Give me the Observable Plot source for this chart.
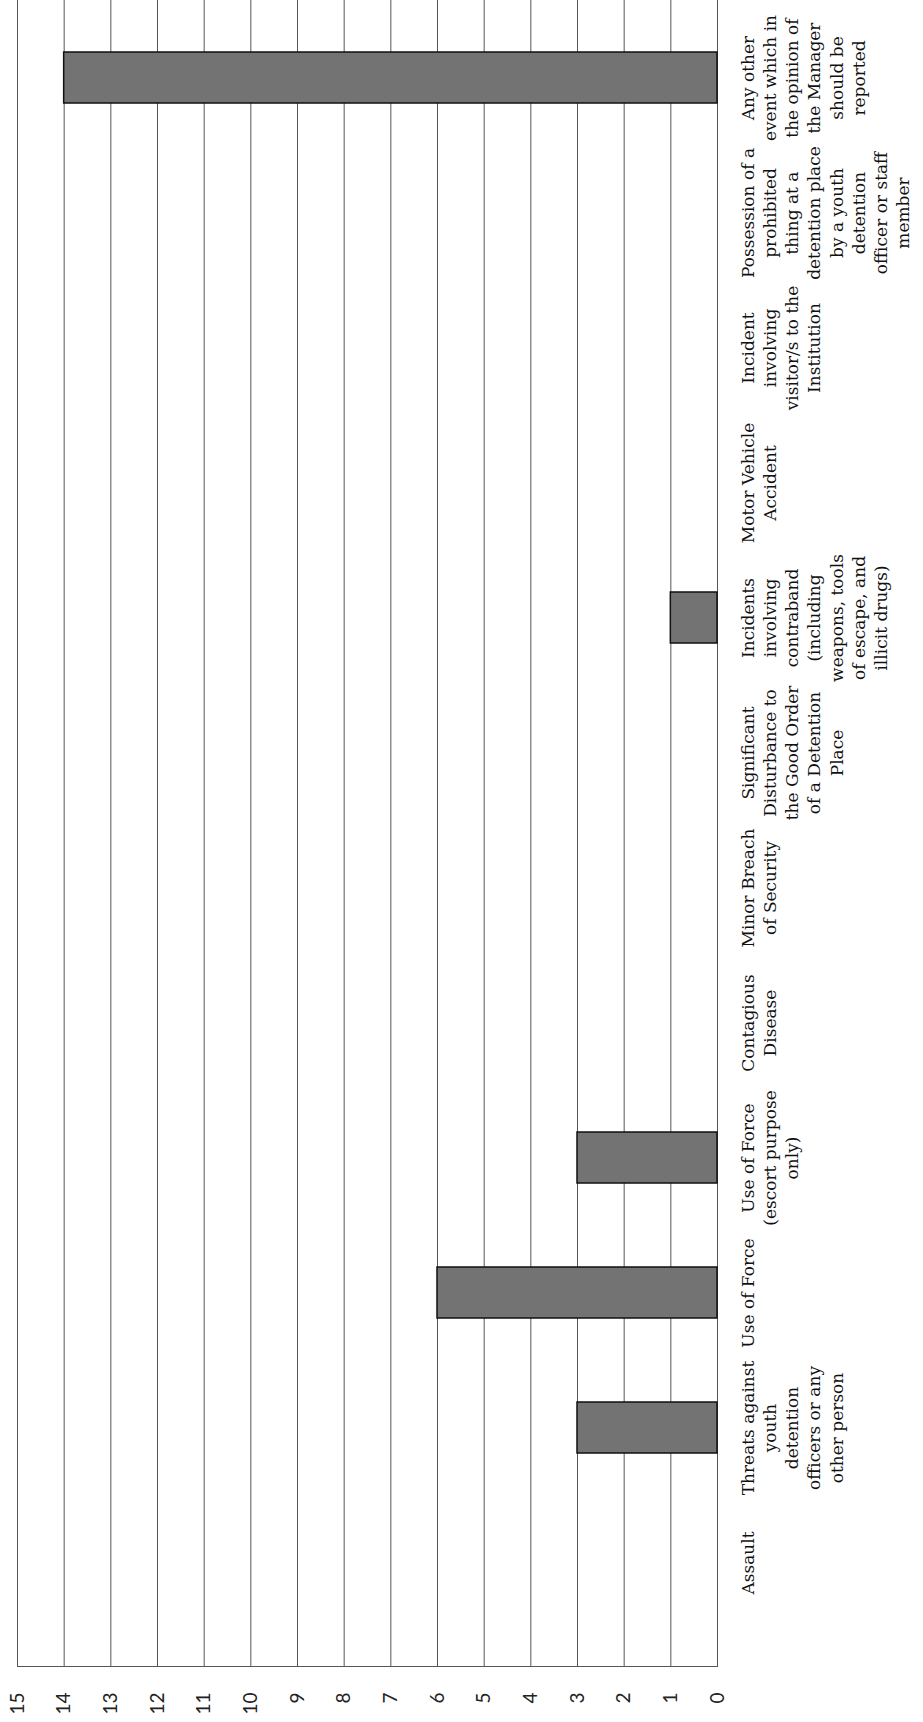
<!DOCTYPE html>
<html>
<head>
<meta charset="utf-8">
<script src="https://cdn.jsdelivr.net/npm/d3@7"></script>
<script src="https://cdn.jsdelivr.net/npm/@observablehq/plot@0.6"></script>
<style>
  html, body { margin: 0; padding: 0; background: #fff; }
  #chart svg { display: block; }
</style>
</head>
<body>
<div id="chart"></div>
<script>
const categories = [
  "Assault",
  "Threats against\nyouth\ndetention\nofficers or any\nother person",
  "Use of Force",
  "Use of Force\n(escort purpose\nonly)",
  "Contagious\nDisease",
  "Minor Breach\nof Security",
  "Significant\nDisturbance to\nthe Good Order\nof a Detention\nPlace",
  "Incidents\ninvolving\ncontraband\n(including\nweapons, tools\nof escape, and\nillicit drugs)",
  "Motor Vehicle\nAccident",
  "Incident\ninvolving\nvisitor/s to the\nInstitution",
  "Possession of a\nprohibited\nthing at a\ndetention place\nby a youth\ndetention\nofficer or staff\nmember",
  "Any other\nevent which in\nthe opinion of\nthe Manager\nshould be\nreported"
];
const counts = [0, 3, 6, 3, 0, 0, 0, 1, 0, 0, 0, 14];
const valueTicks = [0, 1, 2, 3, 4, 5, 6, 7, 8, 9, 10, 11, 12, 13, 14, 15];

const data = categories.map((c, i) => ({category: c, count: counts[i]}));

const chart = Plot.plot({
  width: 923,
  height: 1722,
  marginLeft: 17,
  marginRight: 206,
  marginTop: 0,
  marginBottom: 56,
  style: {background: "#fff", color: "#000"},
  x: {domain: [0, 15], reverse: true},
  y: {domain: categories.slice().reverse(), range: [8, 1633], paddingInner: 0.62, paddingOuter: 0.31},
  marks: [
    Plot.ruleX(valueTicks, {stroke: "#555", strokeWidth: 1}),
    Plot.frame({anchor: "bottom", stroke: "#555"}),
    Plot.barX(data, {x: "count", y: "category", fill: "#737373", stroke: "#111", strokeWidth: 1.5}),
    Plot.axisX({ticks: valueTicks, tickSize: 0, tickPadding: 26, tickRotate: -90, fontSize: 19,
      fontFamily: "Lato", textAnchor: "end", lineAnchor: "middle", label: null, fill: "#222"}),
    Plot.axisY({ticks: [], label: null}),
    Plot.text(data, {y: "category", x: () => 0, text: "category", rotate: -90, dx: 21,
      textAnchor: "middle", lineAnchor: "top", fontSize: 17, fontFamily: "DejaVu Serif",
      lineHeight: 1.3, fill: "#111"})
  ]
});
document.getElementById("chart").appendChild(chart);
</script>
</body>
</html>
